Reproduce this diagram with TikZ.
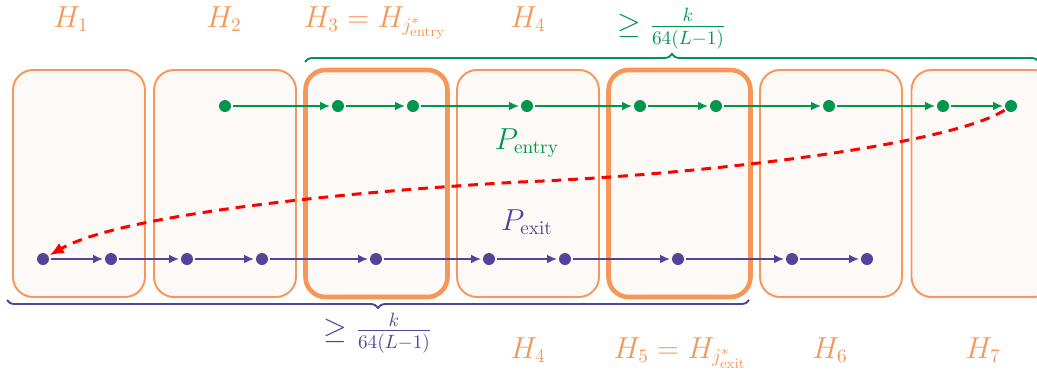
\documentclass[tikz,border=0pt]{standalone}
\usepackage{amsmath,amssymb}
\usepackage{xcolor}
\usetikzlibrary{arrows.meta,positioning,decorations.pathreplacing}

\definecolor{hborder}{RGB}{246,150,88}
\definecolor{hfill}{RGB}{253,249,246}
\definecolor{entrygreen}{RGB}{0,150,80}
\definecolor{exitpurple}{RGB}{84,67,155}

\begin{document}
\begin{tikzpicture}[
  hbox/.style={rectangle, draw=hborder, fill=hfill, line width=1.1pt,
    rounded corners=0.4cm, outer sep=0pt,
    minimum width=2.84cm, minimum height=4.54cm},
  hsel/.style={hbox, line width=2.6pt},
  hlabel/.style={text=hborder, anchor=base, font=\fontsize{16}{19}\selectfont},
  edot/.style={circle, fill=entrygreen, inner sep=0pt, minimum size=0.24cm, outer sep=1pt},
  xdot/.style={circle, fill=exitpurple, inner sep=0pt, minimum size=0.24cm, outer sep=1pt},
  earrow/.style={-{Latex[length=2mm,width=1.7mm]}, draw=entrygreen, line width=1.1pt},
  xarrow/.style={-{Latex[length=2mm,width=1.7mm]}, draw=exitpurple, line width=1.1pt},
  jump/.style={-{Latex[length=2.8mm,width=2.4mm]}, draw=red, line width=1.7pt,
    dash pattern=on 5.5pt off 4pt},
  brace/.style={decorate, decoration={brace, amplitude=0.16cm}, line width=1.1pt}
]
\useasboundingbox (0,0) rectangle (20.74,7.52);

% blocks
\node[hbox, minimum width=2.64cm] (h1) at (1.58,3.85) {};
\node[hbox] (h2) at (4.5,3.85) {};
\node[hsel, right=0.19cm of h2] (h3) {};
\node[hbox, right=0.19cm of h3] (h4) {};
\node[hsel, right=0.19cm of h4] (h5) {};
\node[hbox, right=0.19cm of h5] (h6) {};
\node[hbox, right=0.19cm of h6] (h7) {};

% block names
\node[hlabel] (t1) at (1.42,6.98) {$H_1$};
\node[hlabel] (t2) at (4.48,6.98) {$H_2$};
\node[hlabel] (t3) at (7.5,6.98) {$H_3 = H_{j^*_{\mathrm{entry}}}$};
\node[hlabel] (t4) at (10.56,6.98) {$H_4$};
\node[hlabel] (b4) at (10.56,0.36) {$H_4$};
\node[hlabel] (b5) at (13.6,0.36) {$H_5 = H_{j^*_{\mathrm{exit}}}$};
\node[hlabel] (b6) at (16.6,0.36) {$H_6$};
\node[hlabel] (b7) at (19.66,0.36) {$H_7$};

% entry path
\node[edot] (e1) at (4.5,5.4) {};
\node[edot] (e2) at (6.76,5.4) {};
\node[edot] (e3) at (8.26,5.4) {};
\node[edot] (e4) at (10.54,5.4) {};
\node[edot] (e5) at (12.8,5.4) {};
\node[edot] (e6) at (14.32,5.4) {};
\node[edot] (e7) at (16.58,5.4) {};
\node[edot] (e8) at (18.86,5.4) {};
\node[edot] (e9) at (20.22,5.4) {};
\draw[earrow] (e1)--(e2);
\draw[earrow] (e2)--(e3);
\draw[earrow] (e3)--(e4);
\draw[earrow] (e4)--(e5);
\draw[earrow] (e5)--(e6);
\draw[earrow] (e6)--(e7);
\draw[earrow] (e7)--(e8);
\draw[earrow] (e8)--(e9);
\node[text=entrygreen, font=\fontsize{16}{19}\selectfont] (pentry) at (10.54,4.66) {$P_{\mathrm{entry}}$};

% exit path
\node[xdot] (x1) at (0.86,2.34) {};
\node[xdot] (x2) at (2.22,2.34) {};
\node[xdot] (x3) at (3.74,2.34) {};
\node[xdot] (x4) at (5.24,2.34) {};
\node[xdot] (x5) at (7.52,2.34) {};
\node[xdot] (x6) at (9.78,2.34) {};
\node[xdot] (x7) at (11.3,2.34) {};
\node[xdot] (x8) at (13.56,2.34) {};
\node[xdot] (x9) at (15.84,2.34) {};
\node[xdot] (x10) at (17.34,2.34) {};
\draw[xarrow] (x1)--(x2);
\draw[xarrow] (x2)--(x3);
\draw[xarrow] (x3)--(x4);
\draw[xarrow] (x4)--(x5);
\draw[xarrow] (x5)--(x6);
\draw[xarrow] (x6)--(x7);
\draw[xarrow] (x7)--(x8);
\draw[xarrow] (x8)--(x9);
\draw[xarrow] (x9)--(x10);
\node[text=exitpurple, font=\fontsize{16}{19}\selectfont] (pexit) at (10.54,3.08) {$P_{\mathrm{exit}}$};

% jump from end of entry path to start of exit path
\draw[jump] (e9) .. controls (19.0,4.62) and (14.0,4.02) .. (10.4,3.88)
  .. controls (6.8,3.68) and (2.4,3.22) .. (x1);

% braces
\coordinate (gl) at (6.1,6.28);
\coordinate (gr) at (20.78,6.28);
\draw[brace, draw=entrygreen] (gl) -- (gr)
  node[midway, above=0.12cm, text=entrygreen, font=\fontsize{16}{19}\selectfont] (glab) {$\geq \frac{k}{64(L-1)}$};
\coordinate (pr) at (14.98,1.52);
\coordinate (pl) at (0.14,1.52);
\draw[brace, draw=exitpurple] (pr) -- (pl)
  node[midway, below=0.12cm, text=exitpurple, font=\fontsize{16}{19}\selectfont] (plab) {$\geq \frac{k}{64(L-1)}$};
\end{tikzpicture}
\end{document}
